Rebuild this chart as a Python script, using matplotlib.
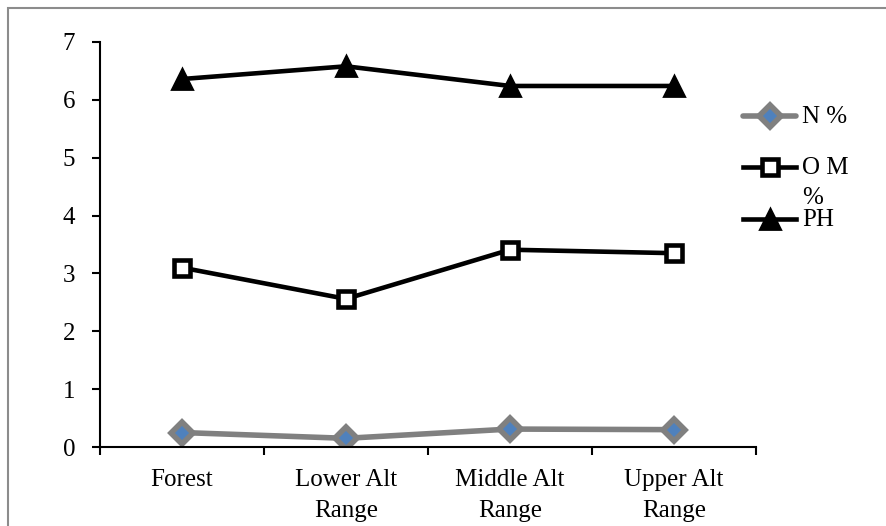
import matplotlib
matplotlib.use("Agg")
import matplotlib.pyplot as plt
from matplotlib.lines import Line2D
from matplotlib.patches import Rectangle

categories = ["Forest", "Lower Alt\nRange", "Middle Alt\nRange", "Upper Alt\nRange"]
n_pct = [0.25, 0.15, 0.31, 0.30]
om_pct = [3.10, 2.56, 3.41, 3.35]
ph = [6.36, 6.58, 6.24, 6.24]
yticks = [0, 1, 2, 3, 4, 5, 6, 7]

plt.rcParams['font.family'] = ['Liberation Serif', 'DejaVu Serif']
FS = 18

W, H = 886, 526
fig = plt.figure(figsize=(W / 100, H / 100), dpi=100)
ax = fig.add_axes([100 / W, 1 - 447 / H, 656 / W, 405 / H])

N_STYLE = dict(color='#808080', lw=4.0, marker='D', ms=11, mfc='#4F81BD',
               mec='#808080', mew=4.0, solid_capstyle='round')
OM_STYLE = dict(color='black', lw=3.3, marker='s', ms=11, mfc='white',
                mec='black', mew=3.3)
PH_STYLE = dict(color='black', lw=3.3, marker='^', ms=14, mfc='black',
                mec='black', mew=2.0)

x = list(range(len(categories)))
ax.plot(x, n_pct, **N_STYLE)
ax.plot(x, om_pct, **OM_STYLE)
ax.plot(x, ph, **PH_STYLE)

ax.set_xlim(-0.5, len(categories) - 0.5)
ax.set_ylim(0, 7)
ax.set_yticks(yticks)
ax.set_yticklabels([str(v) for v in yticks], fontsize=FS)
ax.set_xticks([i + 0.5 for i in range(-1, len(categories))])
ax.set_xticklabels([''] * (len(categories) + 1))
ax.tick_params(axis='y', direction='out', length=6, width=1.5, pad=12)
ax.tick_params(axis='x', direction='out', length=6, width=1.5)
for i, c in enumerate(categories):
    ax.text(i, -0.38, c, ha='center', va='top', fontsize=FS, linespacing=1.55,
            transform=ax.transData)
for s in ['top', 'right']:
    ax.spines[s].set_visible(False)
for s in ['left', 'bottom']:
    ax.spines[s].set_linewidth(1.5)

# manual legend
def fx(px):
    return px / W

def fy(py):
    return 1 - py / H

leg = [
    (116, N_STYLE, "N %"),
    (167, OM_STYLE, "O M\n%"),
    (219, PH_STYLE, "PH"),
]
for py, style, label in leg:
    fig.add_artist(Line2D([fx(743), fx(770), fx(796)], [fy(py)] * 3,
                          markevery=[1], transform=fig.transFigure, **style))
    fig.text(fx(802), fy(py - 10), label, ha='left', va='top', fontsize=FS,
             linespacing=1.5)

fig.add_artist(Rectangle((fx(8), -0.1), 1.2, fy(8) + 0.1, transform=fig.transFigure,
                         fill=False, ec='#8c8c8c', lw=1.5))

fig.savefig("out.png", dpi=100)
